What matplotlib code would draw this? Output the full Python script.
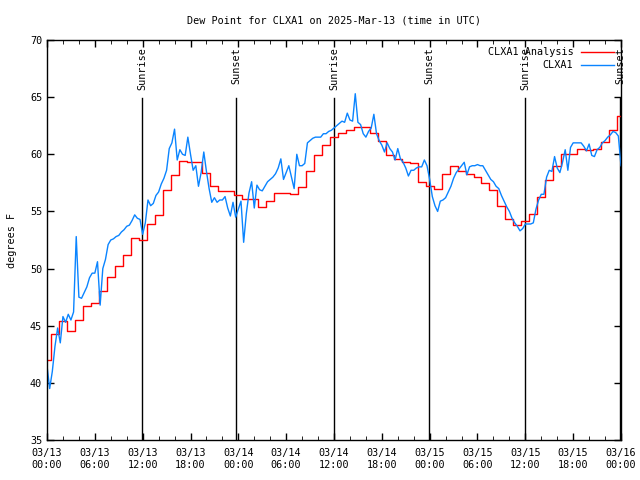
import matplotlib
matplotlib.use('Agg')
import matplotlib.pyplot as plt
import numpy as np

plt.rcParams['font.family'] = ['DejaVu Sans Mono']

# hourly analysis values (hours since 03/13 00:00 UTC)
ana_hours = list(range(73))
ana_dewp = [42.0, 44.3, 45.4, 44.5, 45.5, 46.7, 47.0, 48.0, 49.3, 50.2, 51.2, 52.7,
            52.5, 53.9, 54.7, 56.9, 58.2, 59.4, 59.3, 59.3, 58.4, 57.2, 56.8, 56.8,
            56.4, 56.1, 56.1, 55.4, 55.9, 56.6, 56.6, 56.5, 57.1, 58.5, 59.9, 60.8,
            61.5, 61.9, 62.1, 62.4, 62.4, 61.9, 61.2, 59.9, 59.6, 59.3, 59.2, 57.6,
            57.2, 57.0, 58.3, 59.0, 58.5, 58.3, 58.0, 57.5, 56.9, 55.5, 54.3, 53.8,
            54.2, 54.8, 56.3, 57.75, 59.0, 60.0, 60.0, 60.5, 60.4, 60.5, 61.1, 62.1,
            63.35]

# observations every 20 minutes
obs_dewp = [41.5, 39.5, 41.0, 43.2, 44.8, 43.5, 45.8, 45.3, 46.0, 45.5, 46.2, 52.8,
            47.5, 47.4, 47.9, 48.4, 49.2, 49.6, 49.6, 50.6, 46.8, 50.0, 50.8, 52.1,
            52.5, 52.6, 52.8, 52.9, 53.2, 53.4, 53.7, 53.8, 54.2, 54.7, 54.4, 54.3,
            53.0, 54.0, 56.0, 55.5, 55.7, 56.4, 56.7, 57.4, 57.9, 58.6, 60.5, 61.0,
            62.2, 59.5, 60.4, 60.0, 59.9, 61.5, 60.0, 58.6, 59.0, 57.2, 58.4, 60.2,
            58.5, 57.0, 55.8, 56.2, 55.8, 56.0, 56.0, 56.3, 55.3, 54.6, 55.8, 54.5,
            55.2, 55.9, 52.3, 54.8, 56.6, 57.6, 55.3, 57.3, 56.9, 56.8, 57.2, 57.6,
            57.8, 58.0, 58.3, 58.8, 59.6, 57.8, 58.4, 59.0, 58.0, 57.0, 60.0, 59.0,
            59.0, 59.2, 61.0, 61.2, 61.4, 61.5, 61.5, 61.5, 61.8, 61.8, 62.0, 62.1,
            62.3, 62.5, 62.7, 62.9, 62.8, 63.6, 63.0, 62.9, 65.3, 62.8, 62.6, 61.8,
            61.5, 62.0, 62.3, 63.5, 61.8, 61.2, 60.8, 60.2, 61.0, 60.5, 60.2, 59.5,
            60.5, 59.6, 59.3, 58.8, 58.1, 58.6, 58.6, 58.8, 58.9, 58.9, 59.5, 59.0,
            57.8, 56.3, 55.5, 55.0, 55.9, 56.0, 56.2, 56.7, 57.2, 57.9, 58.4, 58.7,
            59.0, 59.3, 58.2, 58.9, 59.0, 59.0, 59.1, 59.0, 59.0, 58.6, 58.2, 57.8,
            57.6, 57.2, 57.0, 56.4, 55.9, 55.4, 55.0, 54.4, 54.0, 53.7, 53.3, 53.5,
            53.9, 53.9, 53.9, 54.0, 55.2, 56.0, 56.5, 56.5, 58.0, 58.6, 58.5, 59.8,
            58.8, 58.4, 59.3, 60.4, 58.6, 60.6, 61.0, 61.0, 61.0, 61.0, 60.7, 60.3,
            60.9, 59.9, 59.8, 60.4, 60.6, 61.0, 61.2, 61.5, 61.7, 62.0, 61.9, 61.6,
            59.0]
obs_hours = np.arange(len(obs_dewp)) / 3.0

sun_hours = [11.92, 23.71, 36.0, 47.92, 59.96, 71.88]
sun_names = ['Sunrise', 'Sunset', 'Sunrise', 'Sunset', 'Sunrise', 'Sunset']

tick_hours = list(range(0, 73, 6))
tick_labels = ['03/13\n00:00', '03/13\n06:00', '03/13\n12:00', '03/13\n18:00',
               '03/14\n00:00', '03/14\n06:00', '03/14\n12:00', '03/14\n18:00',
               '03/15\n00:00', '03/15\n06:00', '03/15\n12:00', '03/15\n18:00',
               '03/16\n00:00']

fig = plt.figure(figsize=(6.4, 4.8), dpi=100)
ax = fig.add_axes([47/640, 40/480, 574/640, 400/480])

for h, name in zip(sun_hours, sun_names):
    ax.plot([h, h], [35, 64.9], color='black', lw=1)
    ax.text(h, 69.4, name, rotation=90, ha='center', va='top', fontsize=7.3)

ax.step(ana_hours, ana_dewp, where='mid', color='#ff0000', lw=1, label='CLXA1 Analysis')
ax.plot(obs_hours, obs_dewp, color='#0a84ff', lw=1, label='CLXA1')

ax.set_xlim(0, 72)
ax.set_ylim(35, 70)
ax.set_xticks(tick_hours)
ax.set_xticklabels(tick_labels, linespacing=1.25)
ax.set_xticks(range(0, 73, 2), minor=True)
ax.set_yticks(range(35, 71, 5))
ax.tick_params(direction='in', top=True, right=True, labelsize=7.3, length=5, width=1)
ax.tick_params(axis='x', pad=6)
ax.tick_params(which='minor', direction='in', top=True, bottom=True, length=3)
for s in ax.spines.values():
    s.set_linewidth(1)

ax.set_title('Dew Point for CLXA1 on 2025-Mar-13 (time in UTC)', fontsize=7.3, pad=12)
ax.set_ylabel('degrees F', fontsize=7.3)
ax.yaxis.set_label_coords(-0.053, 0.5)

ax.legend(loc='upper right', frameon=False, markerfirst=False, fontsize=7.3,
          handlelength=3.2, borderaxespad=0.3, labelspacing=0.3)

plt.savefig('out.png', dpi=100)
